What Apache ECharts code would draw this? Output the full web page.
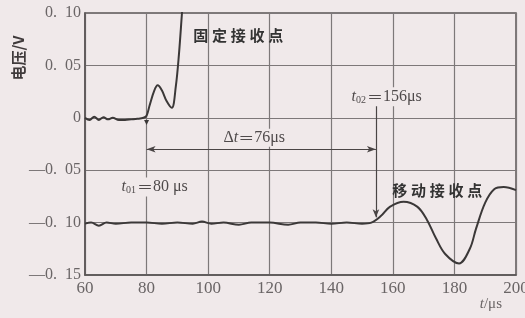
<!DOCTYPE html>
<html><head><meta charset="utf-8">
<script src="https://cdn.jsdelivr.net/npm/echarts@6/dist/echarts.min.js"></script>
<style>html,body{margin:0;padding:0;background:#f0e9ea}#c{width:525px;height:318px}</style>
</head><body><div id="c"></div>
<script>
// ---- data ----
const xTicks = [60, 80, 100, 120, 140, 160, 180, 200];
const yTickLabels = ['\u20140.\u200215', '\u20140.\u200210', '\u20140.\u200205', '0', '0.\u200205', '0.\u200210'];
const yTitle = '电压/V';
const fixedT = [60, 61.5, 63, 64.5, 66, 67.5, 69, 71, 73, 75, 77, 79, 80, 81, 82.5, 83.6, 85, 86.5, 88.2, 89.5, 90.5, 91.5, 92.5];
const fixedV = [0, -0.002, 0.001, -0.002, 0.0005, -0.0015, 0, -0.002, -0.002, -0.0015, -0.001, 0, 0.002, 0.012, 0.026, 0.031, 0.026, 0.016, 0.0095, 0.03, 0.06, 0.1, 0.14];
const movingT = [60, 62, 64.5, 67, 70, 75, 80, 85, 90, 95, 98, 101, 105, 110, 114, 120, 126, 130, 135, 140, 145, 150, 153, 156, 159, 163.5, 168, 171, 174, 177, 181.5, 185, 187, 190, 193, 196, 200];
const movingV = [-0.101, -0.1, -0.103, -0.1, -0.101, -0.1, -0.1, -0.101, -0.1, -0.101, -0.099, -0.101, -0.1, -0.102, -0.1, -0.1, -0.102, -0.1, -0.1, -0.101, -0.1, -0.101, -0.1, -0.094, -0.085, -0.08, -0.085, -0.097, -0.115, -0.13, -0.139, -0.125, -0.106, -0.081, -0.068, -0.066, -0.069];
const t01 = 80, t02 = 154.5, deltaY = -0.03;
// ---------------
const zip = (a, b) => a.map((v, i) => [v, b[i]]);
const serif = '"Liberation Serif","DejaVu Serif",serif';
const cjk = '"Noto Sans CJK SC",sans-serif';
const ink = '#3b3838';
const tc = '#4f4a4b';
const chart = echarts.init(document.getElementById('c'));
const txt = (coord, text, extra) => ({
  coord, symbolSize: 0,
  label: Object.assign({show: true, position: 'inside', formatter: text, color: tc, fontFamily: serif, fontSize: 16,
    rich: {i: {fontStyle: 'italic', fontFamily: serif, fontSize: 16, color: tc},
           s: {fontSize: 10, fontFamily: serif, color: tc, padding: [7, 1, 0, 0]},
           n: {fontFamily: serif, fontSize: 16, color: tc},
           e: {fontFamily: cjk, fontSize: 16, color: tc}}}, extra || {})
});
chart.setOption({
  backgroundColor: '#f0e9ea',
  animation: false,
  grid: {left: 85, right: 9, top: 13, bottom: 43, containLabel: false, outerBoundsMode: 'none',
    show: true, borderColor: '#5a5556', borderWidth: 1.5},
  graphic: [{
    type: 'text', x: 18, y: 58, rotation: Math.PI / 2, silent: true,
    style: {text: yTitle, fill: '#3f3a3b', font: 'bold 15px "Noto Sans CJK SC", sans-serif', align: 'center', verticalAlign: 'middle'}
  }],
  xAxis: {
    type: 'value', min: 60, max: 200, interval: 20,
    axisLine: {onZero: false, lineStyle: {color: '#5a5556', width: 1.5}},
    axisTick: {show: false},
    axisLabel: {color: '#6a6566', fontFamily: serif, fontSize: 17, margin: 5,
      formatter: v => xTicks.includes(v) ? String(v) : ''},
    splitLine: {lineStyle: {color: '#7d7879', width: 1.2}},
    name: '{i|t}/μs', nameLocation: 'end', nameGap: 0,
    nameTextStyle: {align: 'right', verticalAlign: 'top', padding: [22, 14, 0, 0], color: '#6a6566', fontFamily: serif, fontSize: 15,
      rich: {i: {fontStyle: 'italic', fontFamily: serif, fontSize: 15, color: '#6a6566'}}}
  },
  yAxis: {
    type: 'value', min: -0.15, max: 0.1, interval: 0.05,
    axisLine: {onZero: false, lineStyle: {color: '#5a5556', width: 1.5}},
    axisTick: {show: false},
    axisLabel: {color: '#6a6566', fontFamily: serif, fontSize: 16, margin: 4,
      formatter: v => yTickLabels[Math.round((v + 0.15) / 0.05)] || ''},
    splitLine: {lineStyle: {color: '#7d7879', width: 1.2}}
  },
  series: [
    {
      type: 'line', data: zip(fixedT, fixedV), smooth: 0.35, showSymbol: false, clip: true,
      lineStyle: {color: ink, width: 2},
      markPoint: {silent: true, data: [
        txt([109.8, 0.079], '固\u2005定\u2005接\u2005收\u2005点', {fontFamily: cjk, fontWeight: 'bold', color: '#333', fontSize: 15}),
        txt([82.6, -0.066], '{i|t}{s|01}{e|＝}{n|80 μs}', {backgroundColor: '#f0e9ea', padding: [1, 2]}),
        {coord: [t01, -0.0045], symbol: 'triangle', symbolRotate: 180, symbolSize: 5, itemStyle: {color: ink}}
      ]}
    },
    {
      type: 'line', data: zip(movingT, movingV), smooth: 0.35, showSymbol: false, clip: true,
      lineStyle: {color: ink, width: 2},
      markPoint: {silent: true, data: [
        txt([174.4, -0.0687], '移\u2005动\u2005接\u2005收\u2005点', {fontFamily: cjk, fontWeight: 'bold', color: '#333', fontSize: 15}),
        txt([115, -0.019], 'Δ{i|t}{e|＝}{n|76μs}', {backgroundColor: '#f0e9ea', padding: [1, 2]}),
        txt([158, 0.02], '{i|t}{s|02}{e|＝}{n|156μs}', {backgroundColor: '#f0e9ea', padding: [1, 2]})
      ]},
      markLine: {silent: true, animation: false, symbol: ['none', 'none'],
        lineStyle: {color: '#4a4545', width: 1.2, type: 'solid'}, label: {show: false},
        data: [
          [{coord: [t01, deltaY], symbol: 'arrow', symbolSize: [5, 9]}, {coord: [t02, deltaY], symbol: 'arrow', symbolSize: [5, 9]}],
          [{coord: [t02, 0.012], symbol: 'none'}, {coord: [t02, -0.095], symbol: 'arrow', symbolSize: [5, 8]}]
        ]}
    }
  ]
});
</script></body></html>
